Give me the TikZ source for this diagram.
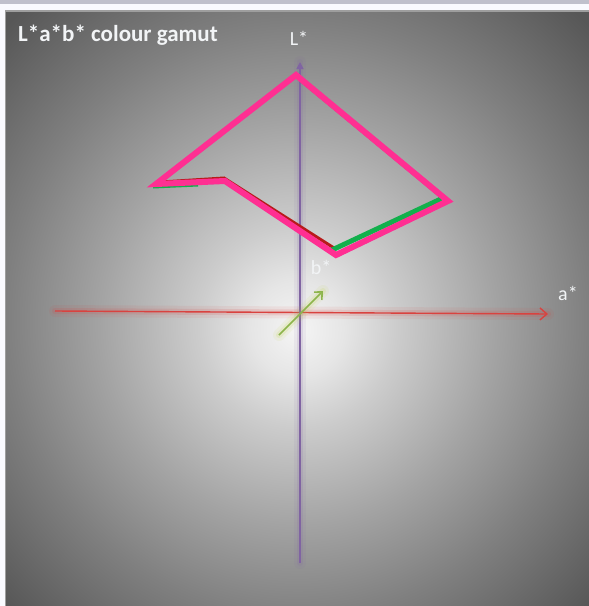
\documentclass[tikz,border=0pt]{standalone}
\usepackage{fontspec}
\setmainfont{Carlito}
\usepackage{xcolor}
\usetikzlibrary{arrows.meta, positioning}
\definecolor{gamutpink}{HTML}{FF2F92}
\definecolor{gamutred}{HTML}{B81A1A}
\definecolor{gamutgreen}{HTML}{12B04C}
\definecolor{gamutcyan}{HTML}{2EC4F0}
\definecolor{laxiscol}{HTML}{8064A2}
\definecolor{aaxiscol}{HTML}{D9423F}
\definecolor{baxiscol}{HTML}{8DB54C}
\definecolor{labwhite}{HTML}{F2F4F6}
\pgfdeclareradialshading{panelglow}{\pgfpoint{0bp}{-1.8bp}}{%
  color(0bp)=(white!96!black); color(4bp)=(white!90!black);
  color(8.5bp)=(white!80!black); color(17bp)=(white!64!black);
  color(25bp)=(white!50!black); color(35bp)=(white!34!black);
  color(50bp)=(white!33!black)}
\tikzset{
  glow/.style={preaction={draw=#1, arrows=-, line cap=round,
                          line width=12pt, opacity=0.08},
               preaction={draw=#1, arrows=-, line cap=round,
                          line width=6pt, opacity=0.14}},
  axislbl/.style={text=labwhite, inner sep=0pt,
                  font=\fontsize{20}{20}\selectfont},
}
\begin{document}
\begin{tikzpicture}[x=1pt, y=-1pt,
    laxis/.style={draw=laxiscol, line width=1.6pt, glow=laxiscol,
                  -{Triangle[length=7pt, width=7pt]}},
    aaxis/.style={draw=aaxiscol, line width=1.4pt, glow=aaxiscol,
                  -{Straight Barb[length=7pt, width=12pt]}},
    baxis/.style={draw=baxiscol, line width=1.6pt, glow=baxiscol!60!yellow,
                  -{Straight Barb[length=6pt, width=11pt]}},
    gamut/.style={draw=gamutpink, line width=6pt, line join=miter},
  ]
  \useasboundingbox (0,0) rectangle (589,606);
  % frame round the panel
  \fill[white!98!blue] (0,0) rectangle (589,606);
  \fill[white!92!blue!60!gray] (0,0) rectangle (589,4);
  \fill[white!62!black] (5,10) rectangle (589,606);
  \shade[shading=panelglow] (6,12) rectangle (589,606);

  \node[anchor=base west, text=labwhite, inner sep=0pt,
        font=\bfseries\fontsize{23}{23}\selectfont] (title) at (18,41)
    {L*a*b* colour gamut};

  % axes
  \coordinate (aL) at (55,311);  \coordinate (aR) at (548,314);
  \coordinate (Lb) at (300,563); \coordinate (Lt) at (300,62);
  \coordinate (bL) at (279,335); \coordinate (bR) at (323,291);
  \draw[aaxis] (aL) -- (aR);
  \draw[laxis] (Lb) -- (Lt);
  \draw[baxis] (bL) -- (bR);
  \node[axislbl, anchor=base] (Llbl) at (299,45) {L*};
  \node[axislbl, anchor=base] (albl) at (568,300) {a*};
  \node[axislbl, anchor=base] (blbl) at (321,274) {b*};

  % gamut outline
  \coordinate (gTop) at (296,75);  \coordinate (gRight) at (448,201);
  \coordinate (gBot) at (336,255); \coordinate (gKink) at (225,181);
  \coordinate (gLeft) at (156,184);
  \draw[draw=gamutcyan, line width=5pt, shift={(1,1.8)}]
    (gTop) -- (gRight) -- (gBot) -- (gKink) -- (gLeft) -- cycle;
  \draw[draw=gamutgreen, line width=3pt] (153,187) -- (198,185);
  \draw[draw=gamutred, line width=3pt]
    (161,182) -- (224,178) -- (334,248) (299,79) -- (444,199);
  \draw[draw=gamutgreen, line width=5pt] (332,250) -- (443,198);
  \draw[gamut] (gTop) -- (gRight) -- (gBot) -- (gKink) -- (gLeft) -- cycle;
\end{tikzpicture}
\end{document}
